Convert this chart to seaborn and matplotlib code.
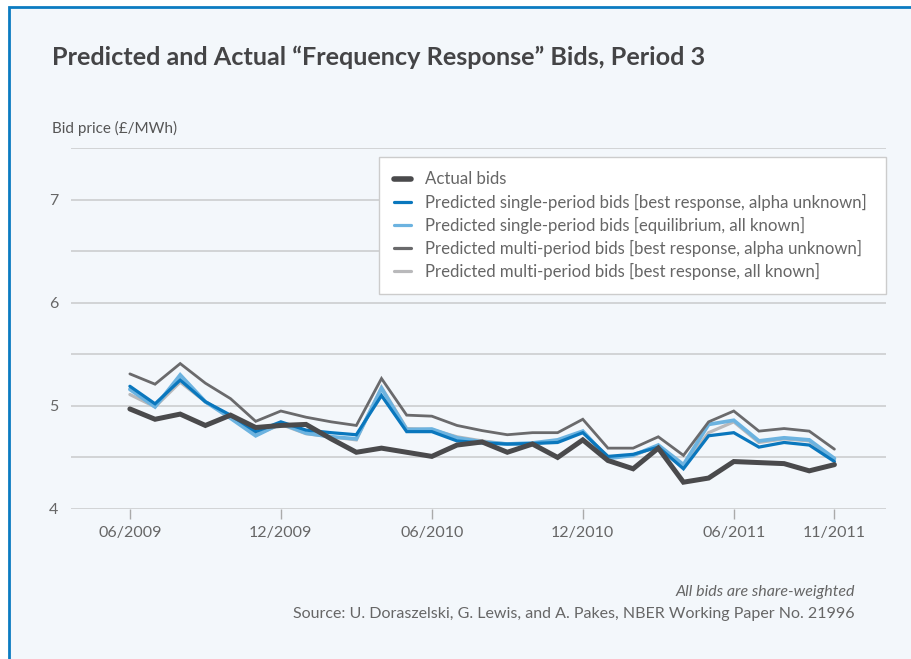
import numpy as np
import pandas as pd
import matplotlib
matplotlib.use("Agg")
import matplotlib.pyplot as plt
from matplotlib.lines import Line2D
from matplotlib.patches import Rectangle
import seaborn as sns

# ---- data ----
tick_labels = ["06/2009", "12/2009", "06/2010", "12/2010", "06/2011", "11/2011"]
tick_index = [0, 6, 12, 18, 24, 28]

actual = [4.97, 4.87, 4.92, 4.81, 4.91, 4.79, 4.81, 4.82, 4.68, 4.55, 4.59, 4.55, 4.51, 4.62, 4.65,
          4.55, 4.63, 4.50, 4.67, 4.47, 4.39, 4.59, 4.26, 4.30, 4.46, 4.45, 4.44, 4.37, 4.43]
single_br = [5.19, 5.02, 5.25, 5.04, 4.91, 4.75, 4.845, 4.765, 4.74, 4.72, 5.10, 4.75, 4.75, 4.66, 4.64,
             4.63, 4.635, 4.645, 4.74, 4.51, 4.53, 4.60, 4.39, 4.71, 4.74, 4.60, 4.645, 4.62, 4.46]
single_eq = [5.16, 4.99, 5.30, 5.04, 4.88, 4.71, 4.83, 4.735, 4.70, 4.68, 5.17, 4.77, 4.775, 4.69, 4.65,
             4.63, 4.64, 4.67, 4.755, 4.49, 4.52, 4.62, 4.43, 4.82, 4.86, 4.66, 4.69, 4.67, 4.49]
multi_br = [5.31, 5.21, 5.41, 5.22, 5.07, 4.85, 4.95, 4.89, 4.845, 4.81, 5.265, 4.91, 4.90, 4.81, 4.76,
            4.72, 4.74, 4.74, 4.87, 4.59, 4.59, 4.70, 4.52, 4.845, 4.95, 4.755, 4.78, 4.755, 4.58]
multi_known = [5.11, 4.99, 5.23, 5.04, 4.90, 4.72, 4.82, 4.73, 4.70, 4.67, 5.18, 4.78, 4.77, 4.70, 4.66,
               4.63, 4.63, 4.66, 4.75, 4.50, 4.52, 4.61, 4.42, 4.74, 4.845, 4.645, 4.68, 4.66, 4.48]

labels = ["Actual bids",
          "Predicted single-period bids [best response, alpha unknown]",
          "Predicted single-period bids [equilibrium, all known]",
          "Predicted multi-period bids [best response, alpha unknown]",
          "Predicted multi-period bids [best response, all known]"]
series = [actual, single_br, single_eq, multi_br, multi_known]
colors = ["#4a4a4c", "#0a77bd", "#6cb3e0", "#6a6a6c", "#b9b9bb"]
widths = [3.6, 2.3, 2.7, 2.0, 2.3]
legend_widths = [4.0, 2.3, 2.3, 2.3, 2.3]
draw_order = [4, 2, 1, 3, 0]

x = np.arange(len(actual))

sns.set_theme(style="white")
plt.rcParams['font.family'] = ['Lato', 'DejaVu Sans']

BG = "#f3f7fb"
fig = plt.figure(figsize=(9.12, 6.59), dpi=100)
fig.patch.set_facecolor("white")
W, H = 912, 659
# card
card = Rectangle((9 / W, -0.1), 1.2, (H - 7) / H + 0.1, transform=fig.transFigure,
                 facecolor=BG, edgecolor="#0b7bc1", linewidth=2.0, zorder=-10)
fig.patches.append(card)

ax = fig.add_axes([71 / W, 1 - 509 / H, (886 - 71) / W, (509 - 148) / H])
ax.set_facecolor("none")
ax.set_zorder(1)

for i in draw_order:
    df = pd.DataFrame({"x": x, "y": series[i]})
    sns.lineplot(data=df, x="x", y="y", ax=ax, color=colors[i], linewidth=widths[i],
                 solid_joinstyle="miter", zorder=3 + draw_order.index(i))

ax.set_xlim(-2.34, 30.05)
ax.set_ylim(4, 7.5)
ax.set_yticks(np.arange(4, 7.51, 0.5))
ax.set_yticklabels(["4", "", "5", "", "6", "", "7", ""])
ax.set_xticks(tick_index)
ax.set_xticklabels(tick_labels)
ax.grid(axis="y", color="#c9cacc", linewidth=1.1, zorder=0)
ax.grid(axis="x", visible=False)
for s in ["top", "right", "left", "bottom"]:
    ax.spines[s].set_visible(False)
ax.tick_params(axis="y", length=0, pad=9, labelsize=11.5, labelcolor="#666666")
ax.tick_params(axis="x", length=7, width=1, color="#aaaaaa", pad=5, labelsize=11.5,
               labelcolor="#666666", direction="out", bottom=True)
ax.set_xlabel("")
ax.set_ylabel("")

handles = [Line2D([0], [0], color=colors[i], linewidth=legend_widths[i]) for i in range(5)]
leg = ax.legend(handles, labels, loc="upper left", bbox_to_anchor=(0.378, 0.975, 0.622, 0.0),
                mode="expand", frameon=True, fontsize=12.1, handlelength=1.05, handletextpad=0.8,
                labelspacing=0.36, borderpad=0.86, borderaxespad=0.0, fancybox=False)
leg.get_frame().set_facecolor("white")
leg.get_frame().set_edgecolor("#cccccc")
leg.get_frame().set_linewidth(1.0)
leg.get_frame().set_alpha(1.0)
for t in leg.get_texts():
    t.set_color("#666666")
leg.set_zorder(20)

fig.text(52 / W, 1 - 57 / H, "Predicted and Actual \u201cFrequency Response\u201d Bids, Period 3",
         fontsize=18.2, fontweight="bold", color="#444446", va="center", ha="left")
fig.text(52 / W, 1 - 128 / H, "Bid price (\u00a3/MWh)", fontsize=11, color="#555555",
         va="center", ha="left")
fig.text(855 / W, 1 - 592 / H, "All bids are share-weighted", fontsize=11.5, style="italic",
         color="#666666", va="center", ha="right")
fig.text(855 / W, 1 - 614 / H,
         "Source: U. Doraszelski, G. Lewis, and A. Pakes, NBER Working Paper No. 21996",
         fontsize=11.5, color="#666666", va="center", ha="right")

fig.savefig("out.png", dpi=100, facecolor=fig.get_facecolor())
